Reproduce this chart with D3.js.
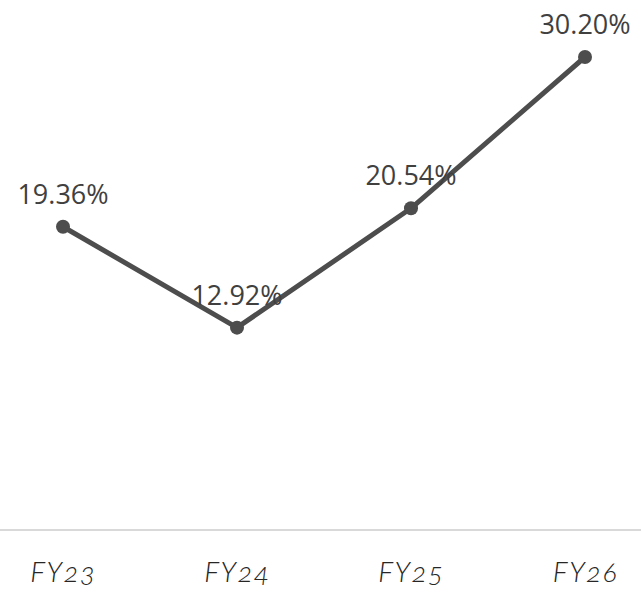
<!DOCTYPE html>
<html>
<head>
<meta charset="utf-8">
<script src="https://cdn.jsdelivr.net/npm/d3@7"></script>
<style>
  html, body { margin: 0; padding: 0; background: #ffffff; }
  svg { display: block; }
</style>
</head>
<body>
<svg id="chart" width="641" height="592"></svg>
<script>
// Fiscal years and their percentage values
const categories = ["FY23", "FY24", "FY25", "FY26"];
const values = [19.36, 12.92, 20.54, 30.20];
const valueLabels = ["19.36%", "12.92%", "20.54%", "30.20%"];

const svg = d3.select("#chart");
const W = 641, H = 592;

const x = d3.scalePoint().domain(categories).range([63, 585]);
const y = d3.scaleLinear().domain([0, 30.2]).range([530, 57]);

// Baseline
svg.append("line")
  .attr("x1", 0).attr("x2", W)
  .attr("y1", y(0)).attr("y2", y(0))
  .attr("stroke", "#d9d9d9")
  .attr("stroke-width", 2);

// Category axis labels
const xAxis = d3.axisBottom(x).tickSize(0).tickPadding(0);
const gx = svg.append("g")
  .attr("transform", `translate(0, ${y(0)})`)
  .call(xAxis);
gx.select(".domain").remove();
gx.selectAll("text")
  .attr("dy", null)
  .attr("y", 52)
  .attr("fill", "#262626")
  .style("font-family", "Lato, 'Open Sans', sans-serif")
  .style("font-style", "italic")
  .style("font-weight", 300)
  .style("font-size", "28px")
  .style("letter-spacing", "1.5px")
  .style("font-variant-numeric", "oldstyle-nums")
  .style("font-feature-settings", "'onum' 1");

const data = categories.map((c, i) => ({ c, v: values[i], label: valueLabels[i] }));

// Line
const line = d3.line().x(d => x(d.c)).y(d => y(d.v));
svg.append("path")
  .datum(data)
  .attr("d", line)
  .attr("fill", "none")
  .attr("stroke", "#4d4d4d")
  .attr("stroke-width", 5)
  .attr("stroke-linejoin", "round");

// Markers
svg.selectAll("circle.pt")
  .data(data)
  .enter().append("circle")
  .attr("class", "pt")
  .attr("cx", d => x(d.c))
  .attr("cy", d => y(d.v))
  .attr("r", 7)
  .attr("fill", "#4d4d4d");

// Value labels
svg.selectAll("text.val")
  .data(data)
  .enter().append("text")
  .attr("class", "val")
  .attr("x", d => x(d.c))
  .attr("y", d => y(d.v) - 23)
  .attr("text-anchor", "middle")
  .attr("fill", "#404040")
  .style("font-family", "'Open Sans', 'Noto Sans', sans-serif")
  .style("font-size", "27px")
  .text(d => d.label);
</script>
</body>
</html>
